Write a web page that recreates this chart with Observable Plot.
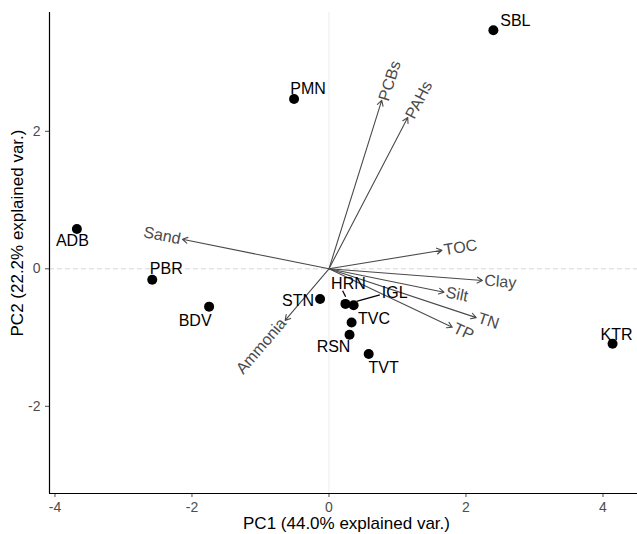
<!DOCTYPE html>
<html><head><meta charset="utf-8">
<script src="https://cdn.jsdelivr.net/npm/d3@7"></script>
<script src="https://cdn.jsdelivr.net/npm/@observablehq/plot@0.6"></script>
<style>body{margin:0;background:#fff}</style>
</head><body><div id="chart"></div>
<script>
// ---- data ----
const sites = ["SBL","PMN","ADB","PBR","BDV","STN","HRN","IGL","TVC","RSN","TVT","KTR"];
const pc1 = [2.40,-0.51,-3.68,-2.58,-1.75,-0.13,0.24,0.36,0.33,0.30,0.58,4.14];
const pc2 = [3.47,2.47,0.58,-0.16,-0.55,-0.44,-0.51,-0.53,-0.78,-0.96,-1.24,-1.09];
const variables = ["PCBs","PAHs","TOC","Clay","Silt","TN","TP","Sand","Ammonia"];
const load1 = [0.77,1.15,1.65,2.24,1.68,2.15,1.80,-2.14,-0.64];
const load2 = [2.45,2.20,0.27,-0.17,-0.34,-0.71,-0.85,0.43,-0.75];
const xTicks = [-4,-2,0,2,4];
const yTicks = [-2,0,2];
const xLabel = "PC1 (44.0% explained var.)";
const yLabel = "PC2 (22.2% explained var.)";

// ---- layout / style (pixel nudges of repelled labels) ----
const labelNudge = {SBL:[22,-9], PMN:[14,-10], ADB:[-4.5,12], PBR:[14,-11], BDV:[-14,14], STN:[-22,2],
  HRN:[3,-20], IGL:[41,-12], TVC:[22.5,-4], RSN:[-16,12], TVT:[15,14], KTR:[4,-9]};
const leaders = {HRN:[[-2.3,-12.6],[0.7,-6.6]], IGL:[[3.4,-3.3],[26.7,-10]]};
const xDomain = [-4.08, 4.504];
const yDomain = [-3.268, 3.728];
const FONT = "'Liberation Sans', Arial, sans-serif";
const varColor = "#4a4a4a";

const siteRows = sites.map((s, i) => ({site: s, pc1: pc1[i], pc2: pc2[i]}));
const varRows = variables.map((v, i) => ({
  name: v, x: load1[i], y: load2[i],
  rot: -Math.atan(load2[i] / load1[i]) * 180 / Math.PI
}));

const siteLabels = siteRows.map(d => Plot.text([d], {
  x: "pc1", y: "pc2", text: "site", fontSize: 16, fill: "#000",
  dx: labelNudge[d.site][0], dy: labelNudge[d.site][1]
}));

const leaderMark = (index, scales) => {
  const g = d3.create("svg:g").attr("stroke", "#000").attr("stroke-width", 1.3);
  for (const [s, [[ax, ay], [bx, by]]] of Object.entries(leaders)) {
    const i = sites.indexOf(s);
    const px = scales.x(pc1[i]), py = scales.y(pc2[i]);
    g.append("line").attr("x1", px + ax).attr("y1", py + ay).attr("x2", px + bx).attr("y2", py + by);
  }
  return g.node();
};

const chart = Plot.plot({
  width: 637, height: 534,
  marginLeft: 49, marginRight: 0, marginTop: 12, marginBottom: 41,
  style: {fontFamily: FONT, background: "#fff"},
  x: {domain: xDomain, ticks: xTicks, tickSize: 4, tickPadding: 5, tickFormat: d => String(d), label: null},
  y: {domain: yDomain, ticks: yTicks, tickSize: 4, tickPadding: 5, tickFormat: d => String(d), label: null},
  marks: [
    Plot.ruleY([0], {stroke: "#d6d6d6", strokeDasharray: "5,3"}),
    Plot.ruleX([0], {stroke: "#ececec"}),
    Plot.axisX({ticks: xTicks, tickSize: 4, tickPadding: 5, tickFormat: d => String(d), fontSize: 14, color: "#4d4d4d", label: null}),
    Plot.axisY({ticks: yTicks, tickSize: 4, tickPadding: 5, tickFormat: d => String(d), fontSize: 14, color: "#4d4d4d", label: null}),
    Plot.ruleX([xDomain[0]], {stroke: "#000", strokeWidth: 1.2}),
    Plot.ruleY([yDomain[0]], {stroke: "#000", strokeWidth: 1.2}),
    Plot.arrow(varRows, {x1: 0, y1: 0, x2: "x", y2: "y", stroke: varColor, strokeWidth: 1.1, headLength: 8}),
    Plot.text(varRows.filter(d => d.x > 0), {x: "x", y: "y", text: "name", rotate: "rot", textAnchor: "start", dx: 2, fill: varColor, fontSize: 16}),
    Plot.text(varRows.filter(d => d.x < 0), {x: "x", y: "y", text: "name", rotate: "rot", textAnchor: "end", dx: -2, fill: varColor, fontSize: 16}),
    Plot.dot(siteRows, {x: "pc1", y: "pc2", r: 5, fill: "#000"}),
    leaderMark,
    ...siteLabels,
    Plot.text([xLabel], {frameAnchor: "bottom", textAnchor: "middle", lineAnchor: "middle", text: d => d, dy: 30, dx: 3, fontSize: 17, fill: "#000"}),
    Plot.text([yLabel], {frameAnchor: "left", textAnchor: "middle", lineAnchor: "middle", text: d => d, rotate: -90, dx: -32, dy: -20, fontSize: 17, fill: "#000"})
  ]
});
document.getElementById("chart").appendChild(chart);
</script>
</body></html>
